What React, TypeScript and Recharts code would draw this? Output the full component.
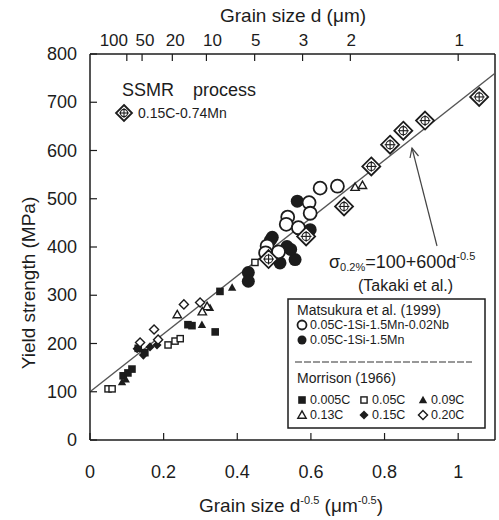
import React from 'react';
import { ScatterChart, Scatter, XAxis, YAxis } from 'recharts';

// ---- chart data ----
const X_TICKS = [0, 0.2, 0.4, 0.6, 0.8, 1];
const Y_TICKS = [0, 100, 200, 300, 400, 500, 600, 700, 800];
const D_LABELS = [100, 50, 20, 10, 5, 3, 2, 1]; // grain size d (um) on top axis

// SSMR process 0.15C-0.74Mn
const SSMR_X = [1.057, 0.91, 0.851, 0.815, 0.764, 0.69, 0.587, 0.485];
const SSMR_Y = [711, 662, 641, 612, 567, 484, 422, 375];

// Matsukura et al. (1999)
const NB_X = [0.625, 0.672, 0.595, 0.598, 0.537, 0.533, 0.481, 0.477, 0.512, 0.566];
const NB_Y = [522, 526, 492, 470, 462, 447, 402, 388, 390, 440];
const MN_X = [0.563, 0.571, 0.598, 0.495, 0.535, 0.557, 0.516, 0.43, 0.43, 0.49, 0.545];
const MN_Y = [495, 436, 436, 420, 401, 374, 367, 347, 329, 414, 395];

// Morrison (1966)
const C005_X = [0.09, 0.103, 0.114, 0.149, 0.266, 0.277, 0.34, 0.353, 0.131];
const C005_Y = [133, 139, 147, 181, 239, 237, 224, 308, 190];
const C05_X = [0.049, 0.06, 0.212, 0.231, 0.245, 0.448];
const C05_Y = [106, 106, 197, 205, 210, 368];
const C09_X = [0.087, 0.304, 0.326, 0.386, 0.097];
const C09_Y = [120, 239, 274, 316, 126];
const C13_X = [0.237, 0.318, 0.72, 0.74, 0.305];
const C13_Y = [260, 277, 524, 528, 266];
const C15_X = [0.128, 0.163, 0.182, 0.145];
const C15_Y = [189, 193, 197, 176];
const C20_X = [0.174, 0.136, 0.255, 0.299, 0.185];
const C20_Y = [229, 202, 281, 285, 208];

// fit line sigma = 100 + 600 d^-0.5 (Takaki et al.)
const FIT_X = [0, 1.1];
const FIT_Y = [100, 760];

const INK = '#1c1c1c';
const FONT = '"Liberation Sans", Arial, sans-serif';
const PLOT = { left: 90, right: 495, top: 54, bottom: 440 };

const pts = (xs: number[], ys: number[]) => xs.map((x, i) => ({ x, y: ys[i] }));

const Marker = ({ kind, cx, cy, s }: { kind: string; cx: number; cy: number; s: number }) => {
  const sw = 1.4;
  switch (kind) {
    case 'fsq':
      return <rect x={cx - s} y={cy - s} width={2 * s} height={2 * s} fill={INK} />;
    case 'osq':
      return <rect x={cx - s + 0.7} y={cy - s + 0.7} width={2 * s - 1.4} height={2 * s - 1.4} fill="#fff" stroke={INK} strokeWidth={sw} />;
    case 'ftri':
      return <polygon points={`${cx},${cy - s * 1.1} ${cx + s * 1.1},${cy + s * 0.85} ${cx - s * 1.1},${cy + s * 0.85}`} fill={INK} />;
    case 'otri':
      return <polygon points={`${cx},${cy - s * 1.1} ${cx + s * 1.1},${cy + s * 0.85} ${cx - s * 1.1},${cy + s * 0.85}`} fill="#fff" stroke={INK} strokeWidth={sw} />;
    case 'fdia':
      return <polygon points={`${cx},${cy - s * 1.2} ${cx + s * 1.2},${cy} ${cx},${cy + s * 1.2} ${cx - s * 1.2},${cy}`} fill={INK} />;
    case 'odia':
      return <polygon points={`${cx},${cy - s * 1.2} ${cx + s * 1.2},${cy} ${cx},${cy + s * 1.2} ${cx - s * 1.2},${cy}`} fill="#fff" stroke={INK} strokeWidth={sw} />;
    case 'ocir':
      return <circle cx={cx} cy={cy} r={s} fill="#fff" stroke={INK} strokeWidth={1.8} />;
    case 'fcir':
      return <circle cx={cx} cy={cy} r={s} fill={INK} />;
    case 'xdia':
      return (
        <g>
          <polygon points={`${cx},${cy - s} ${cx + s},${cy} ${cx},${cy + s} ${cx - s},${cy}`} fill="#fff" stroke={INK} strokeWidth={1.8} />
          <circle cx={cx} cy={cy} r={s * 0.45} fill="none" stroke={INK} strokeWidth={1.1} />
          <line x1={cx - s * 0.6} x2={cx + s * 0.6} y1={cy} y2={cy} stroke={INK} strokeWidth={1.1} />
          <line x1={cx} x2={cx} y1={cy - s * 0.6} y2={cy + s * 0.6} stroke={INK} strokeWidth={1.1} />
        </g>
      );
    default:
      return null;
  }
};

const MORRISON = [
  { label: '0.005C', kind: 'fsq', xs: C005_X, ys: C005_Y },
  { label: '0.05C', kind: 'osq', xs: C05_X, ys: C05_Y },
  { label: '0.09C', kind: 'ftri', xs: C09_X, ys: C09_Y },
  { label: '0.13C', kind: 'otri', xs: C13_X, ys: C13_Y },
  { label: '0.15C', kind: 'fdia', xs: C15_X, ys: C15_Y },
  { label: '0.20C', kind: 'odia', xs: C20_X, ys: C20_Y },
];

const MATSUKURA = [
  { label: '0.05C-1Si-1.5Mn', kind: 'fcir', xs: MN_X, ys: MN_Y },
  { label: '0.05C-1Si-1.5Mn-0.02Nb', kind: 'ocir', xs: NB_X, ys: NB_Y },
];

const BottomTick = (p: any) => (
  <g>
    <line x1={p.x} x2={p.x} y1={PLOT.bottom} y2={PLOT.bottom - 7} stroke={INK} strokeWidth={1.2} />
    <text x={p.x} y={472} textAnchor="middle" dominantBaseline="central" fontSize={18} fontFamily={FONT} fill={INK}>
      {p.payload.value}
    </text>
  </g>
);

const TopTick = (p: any) => {
  const d = Math.round(1 / (p.payload.value * p.payload.value));
  const nudge = d === 100 ? -13 : d === 10 ? 6 : d === 50 || d === 20 ? 3 : 1;
  return (
    <g>
      <line x1={p.x} x2={p.x} y1={PLOT.top} y2={PLOT.top + 7} stroke={INK} strokeWidth={1.2} />
      <text x={p.x + nudge} y={40} textAnchor="middle" dominantBaseline="central" fontSize={17} fontFamily={FONT} fill={INK}>
        {d}
      </text>
    </g>
  );
};

const LeftTick = (p: any) => (
  <g>
    <line x1={PLOT.left} x2={PLOT.left + 7} y1={p.y} y2={p.y} stroke={INK} strokeWidth={1.2} />
    <text x={77} y={p.y} textAnchor="end" dominantBaseline="central" fontSize={18} fontFamily={FONT} fill={INK}>
      {p.payload.value}
    </text>
  </g>
);

const Annotations = () => (
  <svg width={499} height={520} style={{ position: 'absolute', left: 0, top: 0, pointerEvents: 'none' }} fontFamily={FONT} fill={INK}>
    {/* axis titles */}
    <text x={293} y={15} textAnchor="middle" dominantBaseline="central" fontSize={19}>Grain size d (μm)</text>
    <text x={28} y={283} textAnchor="middle" dominantBaseline="central" fontSize={19} transform="rotate(-90, 28, 283)">
      Yield strength (MPa)
    </text>
    <text x={291} y={512} textAnchor="middle" fontSize={19}>
      Grain size d<tspan fontSize={11} dy={-8}>-0.5</tspan>
      <tspan dy={8}> (μm</tspan>
      <tspan fontSize={11} dy={-8}>-0.5</tspan>
      <tspan dy={8}>)</tspan>
    </text>

    {/* SSMR legend */}
    <text x={122} y={96} fontSize={18}>SSMR</text>
    <text x={193} y={96} fontSize={18}>process</text>
    <Marker kind="xdia" cx={124} cy={113} s={8} />
    <text x={138} y={113} dominantBaseline="central" fontSize={14}>0.15C-0.74Mn</text>

    {/* fit line label and arrow */}
    <text x={329} y={268} fontSize={18}>
      σ<tspan fontSize={11} dy={3}>0.2%</tspan>
      <tspan dy={-3}>=100+600d</tspan>
      <tspan fontSize={11} dy={-8}>-0.5</tspan>
    </text>
    <text x={358} y={285} dominantBaseline="central" fontSize={16}>(Takaki et al.)</text>
    <line x1={437} y1={246} x2={412} y2={148} stroke="#444" strokeWidth={1.2} />
    <polyline points="410,158 412,148 418.5,156" fill="none" stroke="#444" strokeWidth={1.2} />

    {/* data legend box */}
    <rect x={288} y={299} width={197} height={129} fill="#fff" stroke={INK} strokeWidth={1.5} />
    <text x={297} y={310} dominantBaseline="central" fontSize={14}>Matsukura  et al. (1999)</text>
    {[MATSUKURA[1], MATSUKURA[0]].map((s, i) => (
      <g key={s.label}>
        <Marker kind={s.kind} cx={302} cy={325 + i * 15} s={4.5} />
        <text x={310} y={325 + i * 15} dominantBaseline="central" fontSize={12.5}>{s.label}</text>
      </g>
    ))}
    <line x1={295} x2={472} y1={362} y2={362} stroke="#333" strokeWidth={1.2} strokeDasharray="7 2" />
    <text x={297} y={378} dominantBaseline="central" fontSize={14}>Morrison (1966)</text>
    {MORRISON.map((s, i) => {
      const col = i % 3;
      const row = Math.floor(i / 3);
      const mx = [302, 364, 423][col];
      const my = 400 + row * 15;
      return (
        <g key={s.label}>
          <Marker kind={s.kind} cx={mx} cy={my} s={3.8} />
          <text x={mx + 8} y={my} dominantBaseline="central" fontSize={12.5}>{s.label}</text>
        </g>
      );
    })}
  </svg>
);

export default function App() {
  return (
    <div style={{ position: 'absolute', left: 0, top: 0, width: 499, height: 520, background: '#fff' }}>
      <ScatterChart width={499} height={520} margin={{ top: 14, right: 3, bottom: 20, left: 20 }}>
        <XAxis
          xAxisId="b"
          dataKey="x"
          type="number"
          domain={[0, 1.1]}
          ticks={X_TICKS}
          interval={0}
          height={60}
          tickLine={false}
          axisLine={{ stroke: INK, strokeWidth: 1.5 }}
          tick={(p: any) => <BottomTick {...p} />}
        />
        <XAxis
          xAxisId="t"
          dataKey="x"
          orientation="top"
          type="number"
          domain={[0, 1.1]}
          ticks={D_LABELS.map((d) => 1 / Math.sqrt(d))}
          interval={0}
          height={40}
          tickLine={false}
          axisLine={{ stroke: INK, strokeWidth: 1.5 }}
          tick={(p: any) => <TopTick {...p} />}
        />
        <YAxis
          yAxisId="l"
          dataKey="y"
          type="number"
          domain={[0, 800]}
          ticks={Y_TICKS}
          interval={0}
          width={70}
          tickLine={false}
          axisLine={{ stroke: INK, strokeWidth: 1.5 }}
          tick={(p: any) => <LeftTick {...p} />}
        />
        <YAxis
          yAxisId="r"
          dataKey="y"
          orientation="right"
          type="number"
          domain={[0, 800]}
          width={1}
          tick={false}
          tickLine={false}
          axisLine={{ stroke: INK, strokeWidth: 1.5 }}
        />

        {/* fit line, on the top/right axes so those axes get drawn too (same domains) */}
        <Scatter
          xAxisId="t"
          yAxisId="r"
          data={pts(FIT_X, FIT_Y)}
          fill="#555"
          line={{ stroke: '#555', strokeWidth: 1.4 }}
          shape={() => <g />}
          isAnimationActive={false}
        />

        {MORRISON.map((s) => (
          <Scatter
            key={s.label}
            xAxisId="b"
            yAxisId="l"
            data={pts(s.xs, s.ys)}
            shape={(p: any) => <Marker kind={s.kind} cx={p.cx} cy={p.cy} s={3.8} />}
            isAnimationActive={false}
          />
        ))}
        {MATSUKURA.map((s) => (
          <Scatter
            key={s.label}
            xAxisId="b"
            yAxisId="l"
            data={pts(s.xs, s.ys)}
            shape={(p: any) => <Marker kind={s.kind} cx={p.cx} cy={p.cy} s={6.5} />}
            isAnimationActive={false}
          />
        ))}
        <Scatter
          xAxisId="b"
          yAxisId="l"
          data={pts(SSMR_X, SSMR_Y)}
          shape={(p: any) => <Marker kind="xdia" cx={p.cx} cy={p.cy} s={9} />}
          isAnimationActive={false}
        />
      </ScatterChart>
      <Annotations />
    </div>
  );
}
